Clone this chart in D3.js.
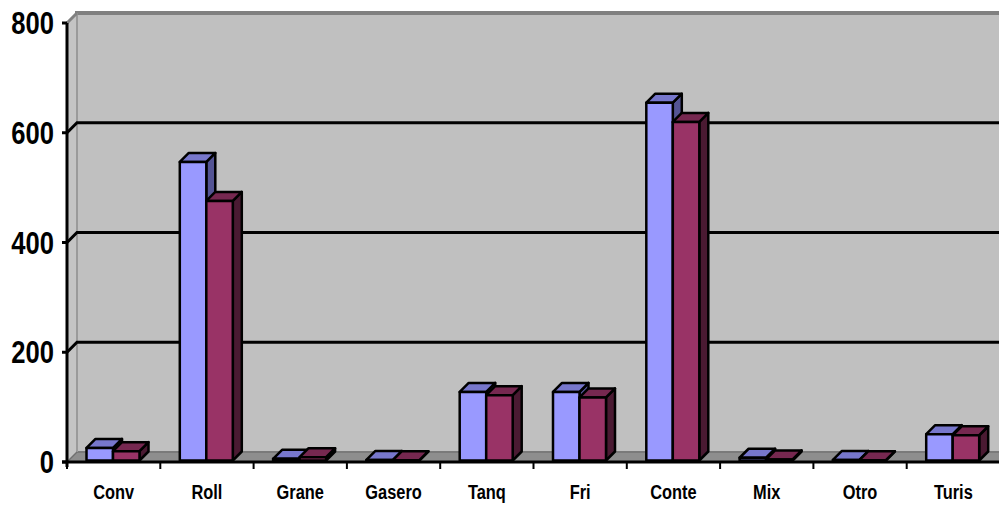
<!DOCTYPE html>
<html>
<head>
<meta charset="utf-8">
<script src="https://cdn.jsdelivr.net/npm/d3@7"></script>
<style>
  html, body { margin: 0; padding: 0; background: #fff; }
  svg { display: block; }
  text { font-family: "Liberation Sans", Arial, sans-serif; font-weight: bold; fill: #000; }
</style>
</head>
<body>
<svg id="chart" width="999" height="506"></svg>
<script>
// categories and the two series
const categories = ['Conv', 'Roll', 'Grane', 'Gasero', 'Tanq', 'Fri', 'Conte', 'Mix', 'Otro', 'Turis'];
const seriesNames = ['s1', 's2'];
const seriesA = [23, 544, 3, 1, 125, 125, 652, 5, 1, 48];
const seriesB = [17, 473, 6, 0.5, 119, 115, 617, 2, 0.5, 46];
const yTicks = [0, 200, 400, 600, 800];

// 3d look: front / top / side shades per series
const shades = {
  s1: { front: '#9999ff', top: '#7777cc', side: '#545494' },
  s2: { front: '#993366', top: '#762850', side: '#4a1a32' },
};

const svg = d3.select('#chart');
const DX = 10, DY = -10;           // depth offset of the back wall
const left = 67, right = 1000;
const NARROW = 0.8;                // no Arial Narrow here, squeeze the bold sans instead
const x = d3.scaleBand().domain(categories).range([left, right]);
const xs = d3.scaleBand().domain(seriesNames).range([19, 72]);
const y = d3.scaleLinear().domain([0, 800]).range([462, 23]);   // front plane

const line = (pts) => 'M' + pts.map((p) => p.join(',')).join('L') + 'Z';

// back wall
svg.append('rect')
  .attr('x', left + DX).attr('y', y(800) + DY)
  .attr('width', right - left).attr('height', y(0) - y(800))
  .attr('fill', '#c0c0c0');
svg.append('line')
  .attr('x1', left + DX - 2).attr('x2', 999).attr('y1', y(800) + DY).attr('y2', y(800) + DY)
  .attr('stroke', '#808080').attr('stroke-width', 4);

// floor
svg.append('path')
  .attr('d', line([[left, y(0)], [left + DX, y(0) + DY], [999, y(0) + DY], [999, y(0)]]))
  .attr('fill', '#8e8e8e');
svg.append('line')
  .attr('x1', left + DX).attr('x2', 999).attr('y1', y(0) + DY).attr('y2', y(0) + DY)
  .attr('stroke', '#7a7a7a').attr('stroke-width', 2);

// side wall
svg.append('path')
  .attr('d', line([[left, y(800)], [left + DX, y(800) + DY], [left + DX, y(0) + DY], [left, y(0)]]))
  .attr('fill', '#c4c4c4');
svg.append('line')
  .attr('x1', left + DX).attr('x2', left + DX).attr('y1', y(800) + DY).attr('y2', y(0) + DY)
  .attr('stroke', '#9a9a9a').attr('stroke-width', 2);
svg.append('line')
  .attr('x1', left).attr('y1', y(800)).attr('x2', left + DX).attr('y2', y(800) + DY)
  .attr('stroke', '#808080').attr('stroke-width', 3);

// gridlines: back wall + slant across the side wall
yTicks.filter((t) => t > 0 && t < 800).forEach((t) => {
  svg.append('path')
    .attr('d', `M${left},${y(t)}L${left + DX},${y(t) + DY}L999,${y(t) + DY}`)
    .attr('fill', 'none').attr('stroke', '#000').attr('stroke-width', 3);
});
svg.append('line')
  .attr('x1', left).attr('y1', y(0)).attr('x2', left + DX).attr('y2', y(0) + DY)
  .attr('stroke', '#707070').attr('stroke-width', 1.5);

// bars
const F = 1.5, D = 9;   // front inset and bar depth, px
const bars = [];
categories.forEach((c, i) => {
  bars.push({ c, s: 's1', v: seriesA[i] });
  bars.push({ c, s: 's2', v: seriesB[i] });
});
const bg = svg.append('g');
bars.forEach((b) => {
  const x0 = x(b.c) + xs(b.s) - 1 + F, x1 = x0 + xs.bandwidth();
  const yt = y(b.v) - F, yb = y(0) - F;
  const g = bg.append('g')
    .attr('stroke', '#000').attr('stroke-width', 2.5).attr('stroke-linejoin', 'round');
  g.append('path').attr('d', line([[x1, yt], [x1 + D, yt - D], [x1 + D, yb - D], [x1, yb]]))
    .attr('fill', shades[b.s].side);
  g.append('path').attr('d', line([[x0, yt], [x0 + D, yt - D], [x1 + D, yt - D], [x1, yt]]))
    .attr('fill', shades[b.s].top);
  g.append('rect').attr('x', x0).attr('y', yt).attr('width', x1 - x0).attr('height', yb - yt)
    .attr('fill', shades[b.s].front);
});

// axes
svg.append('line').attr('x1', left).attr('x2', left).attr('y1', y(800)).attr('y2', y(0) + 5)
  .attr('stroke', '#000').attr('stroke-width', 3);
svg.append('line').attr('x1', left - 5).attr('x2', 999).attr('y1', y(0)).attr('y2', y(0))
  .attr('stroke', '#000').attr('stroke-width', 3);

const yAxis = svg.append('g');
yTicks.forEach((t) => {
  yAxis.append('line').attr('x1', left - 5).attr('x2', left).attr('y1', y(t)).attr('y2', y(t))
    .attr('stroke', '#000').attr('stroke-width', 3);
  yAxis.append('text')
    .attr('transform', `translate(54,${y(t) + 11}) scale(${NARROW},1)`)
    .attr('text-anchor', 'end').attr('font-size', 32).text(t);
});

const xAxis = svg.append('g');
categories.forEach((c, i) => {
  xAxis.append('line').attr('x1', x(c)).attr('x2', x(c)).attr('y1', y(0)).attr('y2', y(0) + 7)
    .attr('stroke', '#000').attr('stroke-width', 2);
  xAxis.append('text')
    .attr('transform', `translate(${x(c) + x.bandwidth() / 2},499) scale(${NARROW},1)`)
    .attr('text-anchor', 'middle').attr('font-size', 20.5).text(c);
});
</script>
</body>
</html>
